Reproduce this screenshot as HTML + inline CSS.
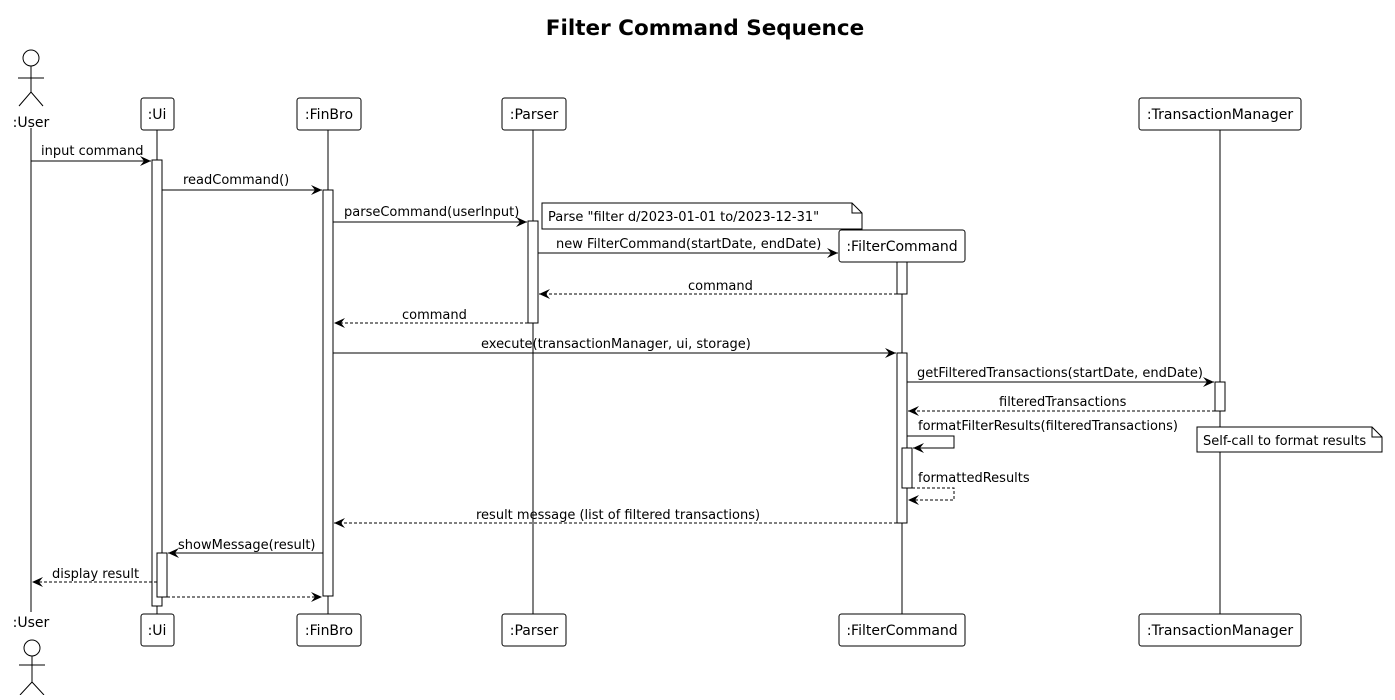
<!DOCTYPE html>
<html><head><meta charset="utf-8"><style>
body{margin:0;background:#fff}
text{font-family:"DejaVu Sans","Liberation Sans",sans-serif;font-size:13px;fill:#000}
.b{font-size:14px}
</style></head><body>
<svg width="1395" height="695" xmlns="http://www.w3.org/2000/svg">
<defs>
<marker id="a" markerWidth="12" markerHeight="10" refX="11" refY="5" orient="auto" markerUnits="userSpaceOnUse">
<path d="M0,0 L11,5 L0,10 L4,5 Z" fill="#000"/></marker>
</defs>
<text x="705" y="35" text-anchor="middle" style="font-size:21.5px;font-weight:bold">Filter Command Sequence</text>
<g stroke="#000" stroke-width="1" fill="none">
<line x1="31" y1="128" x2="31" y2="612"/>
<line x1="157" y1="130" x2="157" y2="614"/>
<line x1="328" y1="130" x2="328" y2="614"/>
<line x1="533" y1="130" x2="533" y2="614"/>
<line x1="902" y1="262" x2="902" y2="614"/>
<line x1="1220" y1="130" x2="1220" y2="614"/>
<circle cx="31" cy="58" r="8"/>
<line x1="31" y1="66" x2="31" y2="92"/><line x1="18" y1="78" x2="44" y2="78"/>
<path d="M19,106 L31,92 L43,106"/>
<circle cx="32" cy="648" r="8"/>
<line x1="32" y1="656" x2="32" y2="682"/><line x1="19" y1="665" x2="45" y2="665"/>
<path d="M20,695 L32,682 L44,695"/>
</g>
<g stroke="#000" fill="#fff">
<rect x="141" y="98" width="33" height="32" rx="2.5"/>
<rect x="297" y="98" width="64" height="32" rx="2.5"/>
<rect x="502" y="98" width="64" height="32" rx="2.5"/>
<rect x="1139" y="98" width="162" height="32" rx="2.5"/>
<rect x="839" y="230" width="126" height="32" rx="2.5"/>
<rect x="141" y="614" width="33" height="32" rx="2.5"/>
<rect x="297" y="614" width="64" height="32" rx="2.5"/>
<rect x="502" y="614" width="64" height="32" rx="2.5"/>
<rect x="839" y="614" width="126" height="32" rx="2.5"/>
<rect x="1139" y="614" width="162" height="32" rx="2.5"/>
<rect x="152" y="160" width="10" height="446"/>
<rect x="157" y="553" width="10" height="44"/>
<rect x="323" y="190" width="10" height="406"/>
<rect x="528" y="221" width="10" height="102"/>
<rect x="897" y="262" width="10" height="32"/>
<rect x="897" y="353" width="10" height="170"/>
<rect x="902" y="448" width="10" height="40"/>
<rect x="1215" y="382" width="10" height="29"/>
<path d="M542,203 L852,203 L862,213 L862,229 L542,229 Z"/>
<path d="M852,203 L852,213 L862,213" fill="none"/>
<path d="M1197,427 L1372,427 L1382,437 L1382,452 L1197,452 Z"/>
<path d="M1372,427 L1372,437 L1382,437" fill="none"/>
</g>
<text class="b" x="31" y="127" text-anchor="middle">:User</text>
<text class="b" x="31" y="627" text-anchor="middle">:User</text>
<g text-anchor="middle" class="b">
<text class="b" x="157" y="119">:Ui</text><text class="b" x="329" y="119">:FinBro</text><text class="b" x="534" y="119">:Parser</text>
<text class="b" x="1220" y="119">:TransactionManager</text><text class="b" x="902" y="251">:FilterCommand</text>
<text class="b" x="157" y="635">:Ui</text><text class="b" x="329" y="635">:FinBro</text><text class="b" x="534" y="635">:Parser</text>
<text class="b" x="902" y="635">:FilterCommand</text><text class="b" x="1220" y="635">:TransactionManager</text>
</g>
<text x="548" y="221">Parse "filter d/2023-01-01 to/2023-12-31"</text>
<text x="1203" y="445">Self-call to format results</text>
<g stroke="#000" fill="none">
<line x1="31" y1="161" x2="151" y2="161" marker-end="url(#a)"/>
<line x1="162" y1="190" x2="322" y2="190" marker-end="url(#a)"/>
<line x1="333" y1="222" x2="527" y2="222" marker-end="url(#a)"/>
<line x1="538" y1="253" x2="838" y2="253" marker-end="url(#a)"/>
<line x1="897" y1="294" x2="539" y2="294" stroke-dasharray="3,2" marker-end="url(#a)"/>
<line x1="528" y1="323" x2="334" y2="323" stroke-dasharray="3,2" marker-end="url(#a)"/>
<line x1="333" y1="353" x2="896" y2="353" marker-end="url(#a)"/>
<line x1="907" y1="382" x2="1214" y2="382" marker-end="url(#a)"/>
<line x1="1215" y1="411" x2="908" y2="411" stroke-dasharray="3,2" marker-end="url(#a)"/>
<path d="M907,436 L954,436 L954,448 L913,448" marker-end="url(#a)"/>
<path d="M912,488 L954,488 L954,500 L908,500" stroke-dasharray="3,2" marker-end="url(#a)"/>
<line x1="897" y1="523" x2="334" y2="523" stroke-dasharray="3,2" marker-end="url(#a)"/>
<line x1="323" y1="553" x2="168" y2="553" marker-end="url(#a)"/>
<line x1="157" y1="582" x2="32" y2="582" stroke-dasharray="3,2" marker-end="url(#a)"/>
<line x1="167" y1="597" x2="322" y2="597" stroke-dasharray="3,2" marker-end="url(#a)"/>
</g>
<text x="41" y="155">input command</text>
<text x="183" y="184">readCommand()</text>
<text x="344" y="216">parseCommand(userInput)</text>
<text x="556" y="248">new FilterCommand(startDate, endDate)</text>
<text x="688" y="290">command</text>
<text x="402" y="319">command</text>
<text x="481" y="348">execute(transactionManager, ui, storage)</text>
<text x="917" y="377">getFilteredTransactions(startDate, endDate)</text>
<text x="999" y="406">filteredTransactions</text>
<text x="918" y="430">formatFilterResults(filteredTransactions)</text>
<text x="918" y="482">formattedResults</text>
<text x="476" y="519">result message (list of filtered transactions)</text>
<text x="178" y="549">showMessage(result)</text>
<text x="52" y="578">display result</text>
</svg>
</body></html>
